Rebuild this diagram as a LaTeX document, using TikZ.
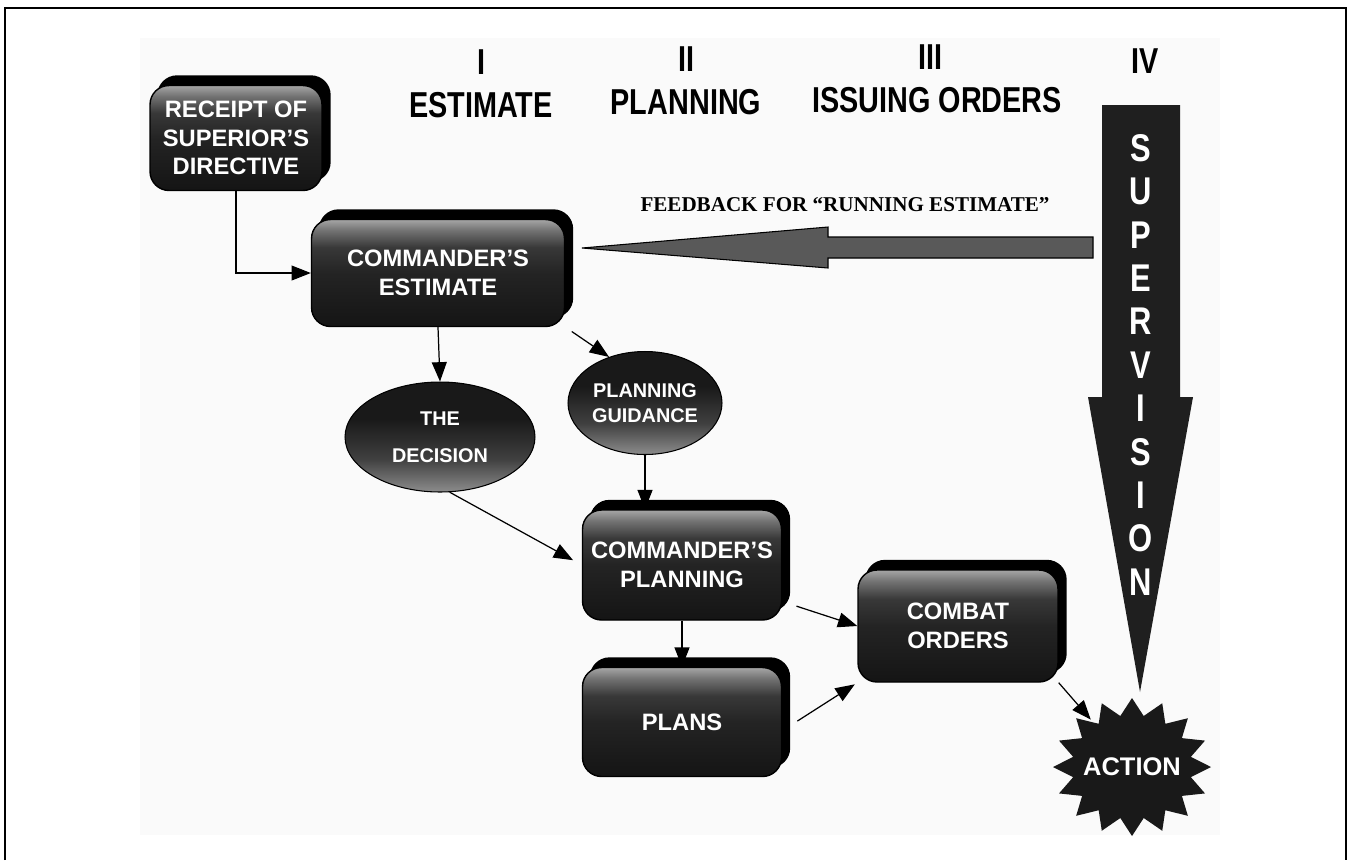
\documentclass[tikz,border=0pt]{standalone}
\usepackage{fontspec}
\setmainfont{Liberation Sans}
\newfontfamily\hdrfont[FakeStretch=0.8]{Liberation Sans}
\newfontfamily\fbfont{Liberation Serif}
\usepackage{tikz}
\usetikzlibrary{arrows.meta}
\usetikzlibrary{shapes.geometric}
\usetikzlibrary{shadows}
\pgfdeclareverticalshading{boxfront}{100bp}{color(0bp)=(black!92); color(25bp)=(black!92); color(50bp)=(black!86); color(62bp)=(black!78); color(70bp)=(black!55); color(75bp)=(black!35); color(100bp)=(black!35)}
\pgfdeclareverticalshading{ovalfront}{100bp}{color(0bp)=(black!45); color(25bp)=(black!45); color(40bp)=(black!75); color(58bp)=(black!90); color(100bp)=(black!90)}

\begin{document}
\begin{tikzpicture}[x=0.02cm, y=-0.02cm,
	boxnode/.style={rounded corners=0.38cm, shade, shading=boxfront, draw=black, line width=0.8pt,
		text=white, align=center, inner sep=0pt, font=\fontsize{13.5}{16.2}\selectfont\bfseries,
		copy shadow={shadow xshift=0.16cm, shadow yshift=0.19cm, fill=black, draw=black}},
	ovalnode/.style={ellipse, shade, shading=ovalfront, draw=black, line width=0.6pt,
		text=white, align=center, inner sep=0pt, font=\fontsize{11.3}{14}\selectfont\bfseries},
	hdr/.style={font=\hdrfont\fontsize{20.5}{24}\selectfont\bfseries},
	suplet/.style={font=\hdrfont\fontsize{22}{24}\selectfont\bfseries, text=white}]
	\useasboundingbox (0,0) rectangle (1351,860);
	\fill[black!2] (140,38) rectangle (1220,835);
	\draw[line width=1.3pt] (5,860) -- (5,8) -- (1346,8) -- (1346,860);

	\node[hdr] (n1) at (481,62) {I};
	\node[hdr] (t1) at (481,105) {ESTIMATE};
	\node[hdr] (n2) at (686,59) {II};
	\node[hdr] (t2) at (686,102) {PLANNING};
	\node[hdr] (n3) at (930,57) {III};
	\node[hdr] (t3) at (937,100) {ISSUING ORDERS};
	\node[hdr] (n4) at (1145,61) {IV};

	\node[font=\fbfont\fontsize{12}{14}\selectfont\bfseries] (fb) at (845,205) {FEEDBACK FOR “RUNNING ESTIMATE”};
	\draw[fill=black!65, line width=0.6pt] (1093,237) -- (828,237) -- (828,227) -- (582,248)
		-- (828,268) -- (828,258) -- (1093,258) -- cycle;

	\fill[black!88] (1102,105) -- (1180,105) -- (1180,397) -- (1193,397) -- (1140,692)
		-- (1088,397) -- (1102,397) -- cycle;
	\foreach \c [count=\i from 0] in {S,U,P,E,R,V,I,S,I,O,N}
		\node[suplet] (sup\i) at (1141,{148+43.4*\i}) {\c};

	\node[boxnode, minimum width=3.44cm, minimum height=2.1cm] (rec) at (236,138) {RECEIPT OF\\SUPERIOR'S\\DIRECTIVE};
	\node[boxnode, minimum width=5.06cm, minimum height=2.14cm] (est) at (438,273) {COMMANDER'S\\ESTIMATE};
	\node[ovalnode, minimum width=3.8cm, minimum height=2.2cm] (dec) at (440,437) {THE\\[7pt]DECISION};
	\node[ovalnode, minimum width=3.08cm, minimum height=2.06cm] (pg) at (645,403) {PLANNING\\GUIDANCE};
	\node[boxnode, minimum width=3.98cm, minimum height=2.2cm] (cp) at (682,565) {COMMANDER'S\\PLANNING};
	\node[boxnode, minimum width=3.98cm, minimum height=2.18cm] (plans) at (682,722) {PLANS};
	\node[boxnode, minimum width=4cm, minimum height=2.24cm] (co) at (958,626) {COMBAT\\ORDERS};

	\coordinate (actc) at (1132,767);
	\fill[black!90] ([shift={(0:79 and 69)}]actc) \foreach \k in {0,...,15} {
		-- ([shift={({\k*22.5+11.25}:60 and 52)}]actc) -- ([shift={({(\k+1)*22.5}:79 and 69)}]actc)} -- cycle;
	\node[circle, minimum size=2.5cm, inner sep=0pt, text=white, font=\fontsize{14.5}{16}\selectfont\bfseries] (act) at (actc) {ACTION};

	\begin{scope}[>={Triangle[length=11pt,width=8.5pt]},
			every edge/.style={draw=black, line width=0.7pt}]
		\path [->] (rec.south) edge [to path={|- (\tikztotarget)}] (est.west);
		\path [->] (est.south) edge (dec.north);
		\path [->, shorten <=0.16cm] (est.-23) edge (pg.128);
		\path [->] (pg.south) edge (pg.south |- cp.north);
		\path [->, shorten >=0.2cm] (dec.-80) edge (cp.west);
		\path [->] (cp.south) edge (plans.north);
		\path [->, shorten <=0.3cm] (cp.-20) edge (co.west);
		\path [->, shorten <=0.36cm, shorten >=0.06cm] (plans.-5) edge (co.south west);
		\path [->] (co.south east) edge (act);
	\end{scope}
\end{tikzpicture}
\end{document}
